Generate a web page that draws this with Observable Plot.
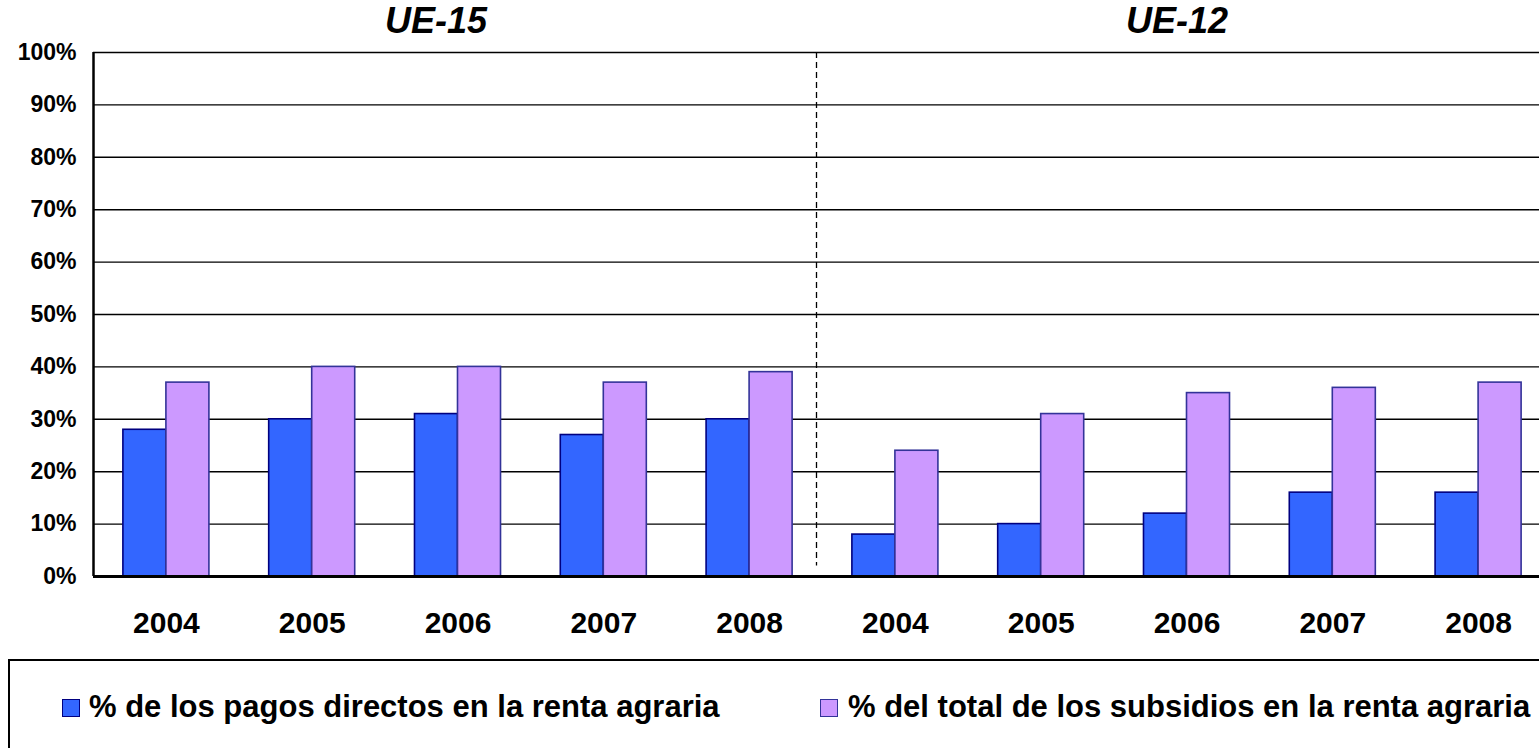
<!DOCTYPE html>
<html>
<head>
<meta charset="utf-8">
<script src="https://cdn.jsdelivr.net/npm/d3@7"></script>
<script src="https://cdn.jsdelivr.net/npm/@observablehq/plot@0.6"></script>
<style>
  html, body { margin: 0; padding: 0; background: #fff; }
  body { width: 1539px; height: 748px; position: relative; overflow: hidden; font-family: "Liberation Sans", Arial, sans-serif; }
  #chart { position: absolute; left: 0; top: 0; width: 1539px; height: 660px; overflow: hidden; }
  #chart svg { max-width: none !important; }
  #chart svg text { font-family: "Liberation Sans", Arial, sans-serif; }
  .legend { position: absolute; left: 8px; top: 659px; width: 1600px; height: 120px; border: 2px solid #000; box-sizing: border-box; }
  .sw { position: absolute; width: 18px; height: 18px; box-sizing: border-box; }
  .lt { position: absolute; font-size: 31px; font-weight: bold; line-height: normal; white-space: nowrap; color: #000; }
</style>
</head>
<body>
<div id="chart"></div>
<div id="legend"></div>
<script>
// ---- data ----
const groups = ["UE-15", "UE-12"];
const years = ["2004", "2005", "2006", "2007", "2008"];
const seriesNames = ["% de los pagos directos en la renta agraria", "% del total de los subsidios en la renta agraria"];
const pagosUE15 = [28, 30, 31, 27, 30];
const subsidiosUE15 = [37, 40, 40, 37, 39];
const pagosUE12 = [8, 10, 12, 16, 16];
const subsidiosUE12 = [24, 31, 35, 36, 37];
const yTicks = [0, 10, 20, 30, 40, 50, 60, 70, 80, 90, 100];

// ---- styling ----
const fills = ["#3366FF", "#CC99FF"];
const strokes = ["#000080", "#333399"];
const barW = 0.295; // fraction of a category band per bar

// ---- table built from the arrays ----
const valuesByGroup = [[pagosUE15, subsidiosUE15], [pagosUE12, subsidiosUE12]];
const rows = [];
const cats = [];
groups.forEach((g, gi) => {
  years.forEach((yr, yi) => {
    const idx = gi * years.length + yi;
    cats.push({group: g, year: yr, idx});
    seriesNames.forEach((s, si) => {
      rows.push({group: g, year: yr, idx, series: si, value: valuesByGroup[gi][si][yi]});
    });
  });
});
const nCats = cats.length;

const chart = Plot.plot({
  width: 1551,
  height: 650,
  marginLeft: 93,
  marginRight: 0,
  marginTop: 52,
  marginBottom: 74,
  style: {fontFamily: '"Liberation Sans", Arial, sans-serif', background: "#fff", overflow: "visible", maxWidth: "none"},
  x: {type: "linear", domain: [0, nCats], axis: null},
  y: {domain: [0, 100], axis: null},
  marks: [
    Plot.ruleY(yTicks.filter(d => d > 0), {stroke: "#000", strokeWidth: 1.4}),
    Plot.ruleX([years.length], {y1: 100, y2: 2, dx: -6, stroke: "#000", strokeWidth: 1.3, strokeDasharray: "6,4"}),
    Plot.rect(rows, {
      x1: d => d.idx + 0.5 - (d.series === 0 ? barW : 0),
      x2: d => d.idx + 0.5 + (d.series === 1 ? barW : 0),
      y1: () => 0,
      y2: "value",
      fill: d => fills[d.series],
      stroke: d => strokes[d.series],
      strokeWidth: 1.6
    }),
    Plot.ruleY([0], {stroke: "#000", strokeWidth: 3}),
    Plot.ruleX([0], {stroke: "#000", strokeWidth: 2.5}),
    Plot.axisY({ticks: yTicks, tickFormat: d => d + "%", tickSize: 0, tickPadding: 17, fontSize: 23, fontWeight: "bold", fill: "#000", label: null}),
    Plot.text(cats, {x: d => d.idx + 0.5, frameAnchor: "bottom", text: "year", dy: 56, lineAnchor: "bottom", fontSize: 30, fontWeight: "bold", fill: "#000"}),
    Plot.text([groups[0]], {x: years.length / 2, text: d => d, frameAnchor: "top", dy: -20, dx: -22, lineAnchor: "bottom", fontSize: 36, fontWeight: "bold", fontStyle: "italic", fill: "#000"}),
    Plot.text([groups[1]], {x: years.length * 1.5, text: d => d, frameAnchor: "top", dy: -20, dx: -10, lineAnchor: "bottom", fontSize: 36, fontWeight: "bold", fontStyle: "italic", fill: "#000"})
  ]
});
document.getElementById("chart").appendChild(chart);

// ---- legend ----
const leg = document.getElementById("legend");
leg.innerHTML = `<div class="legend"></div>
  <div class="sw" style="left:62px;top:699px;background:${fills[0]};border:1.5px solid ${strokes[0]}"></div>
  <div class="lt" style="left:89px;top:689px">${seriesNames[0]}</div>
  <div class="sw" style="left:820px;top:699px;background:${fills[1]};border:1.5px solid ${strokes[1]}"></div>
  <div class="lt" style="left:848px;top:689px">${seriesNames[1]}</div>`;
</script>
</body>
</html>
